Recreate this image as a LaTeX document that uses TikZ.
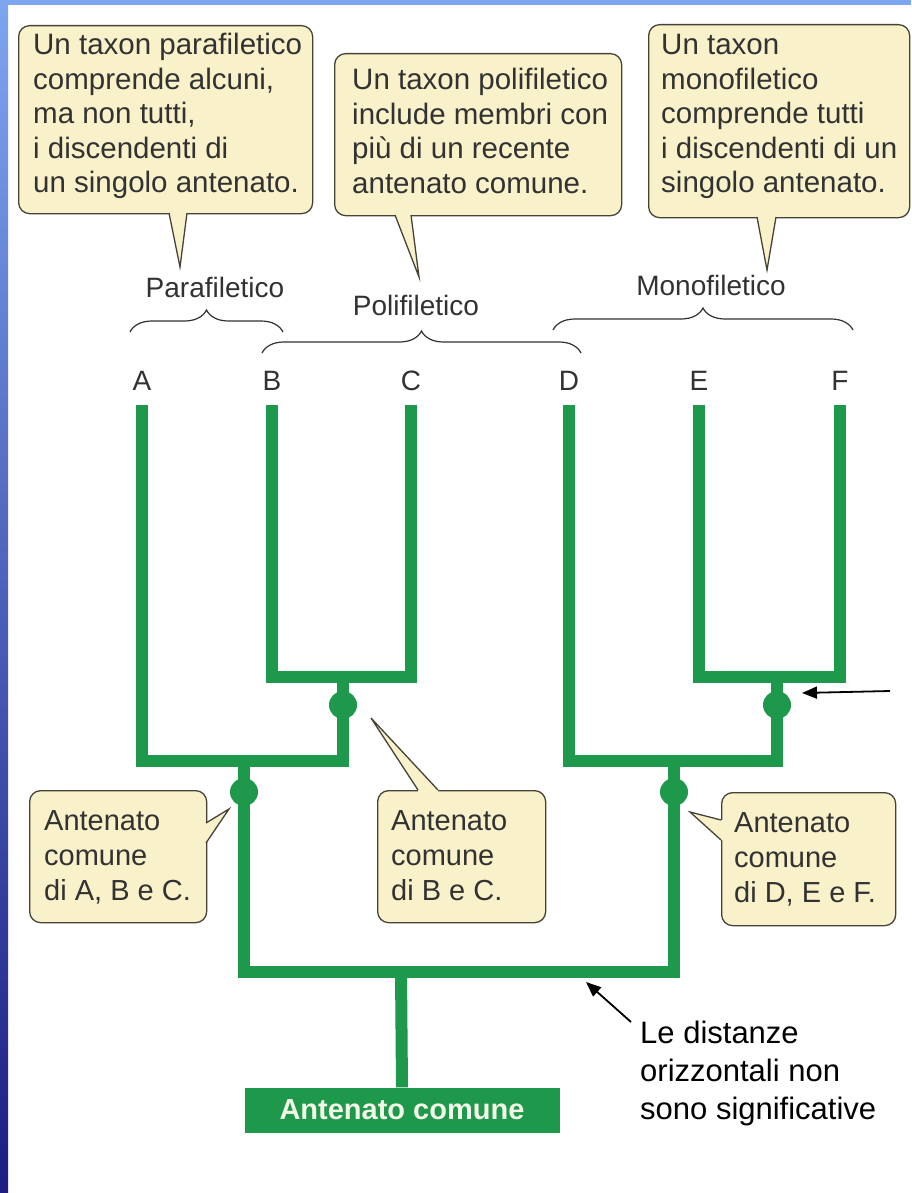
\documentclass[tikz,border=0pt]{standalone}
\usepackage{fontspec}
\setmainfont{Liberation Sans}
\usetikzlibrary{calc,arrows.meta,decorations.pathreplacing}
\definecolor{tree}{RGB}{30,152,74}
\definecolor{callfill}{RGB}{248,241,201}
\definecolor{callline}{RGB}{70,66,56}
\definecolor{txt}{RGB}{50,50,50}
\definecolor{edgelight}{RGB}{125,165,240}
\definecolor{edgemid}{RGB}{50,80,200}
\definecolor{edgedark}{RGB}{28,28,130}
\newcommand\mylines[1]{\begin{tabular}[t]{@{}l@{}}#1\end{tabular}}
\newcommand\calltail[4]{%
  \fill[callfill] ($#1+#4$) -- #1 -- #3 -- #2 -- ($#2+#4$) -- cycle;
  \draw[callline, line width=1.3pt, line join=miter] #1 -- #3 -- #2;}
\begin{document}
\begin{tikzpicture}[x=1pt,y=-1pt,
  callbox/.style={draw=callline, fill=callfill, line width=1.3pt, rounded corners=11pt, inner sep=0pt, anchor=north west},
  boxtext/.style={anchor=base west, inner sep=0pt, text=txt, font=\fontsize{29.5}{34.5}\selectfont},
  smalltext/.style={anchor=base west, inner sep=0pt, text=txt, font=\fontsize{29}{35}\selectfont},
  label/.style={anchor=base, inner sep=0pt, text=txt, font=\fontsize{28}{32}\selectfont},
  branch/.style={draw=tree, line width=12pt, line join=miter},
  knot/.style={circle, fill=tree, minimum size=28pt, inner sep=0pt},
  bracestyle/.style={draw=txt, line width=1.2pt, decorate, decoration={brace, amplitude=22pt}},
  arr/.style={draw=black, line width=1.8pt, -{Triangle[length=15pt,width=12pt]}},
  rootbox/.style={fill=tree, minimum width=315pt, minimum height=45pt, inner sep=0pt, text={rgb,255:red,242;green,247;blue,232}, font=\fontsize{29}{32}\selectfont\bfseries}
]
\useasboundingbox (0,0) rectangle (911,1193);
\fill[white] (0,0) rectangle (911,1193);
% blue slide edges
\shade[top color=edgelight, middle color=edgemid, bottom color=edgedark] (0,0) rectangle (8,1193);
\fill[edgelight] (0,0) rectangle (911,5);

% ---------- top callouts ----------
\node[callbox, minimum width=294pt, minimum height=188pt] (b1) at (18,25) {};
\calltail{(169,213)}{(187,213)}{(180,267)}{(0,-3)}
\node[boxtext] (t1) at (33,55) {\mylines{Un taxon parafiletico\\comprende alcuni,\\ma non tutti,\\i discendenti di\\un singolo antenato.}};

\node[callbox, minimum width=287pt, minimum height=162pt] (b2) at (334,53) {};
\calltail{(395,215)}{(411,215)}{(419,277)}{(0,-3)}
\node[boxtext] (t2) at (352,90) {\mylines{Un taxon polifiletico\\include membri con\\più di un recente\\antenato comune.}};

\node[callbox, minimum width=261pt, minimum height=193pt] (b3) at (648,24) {};
\calltail{(757,217)}{(776,217)}{(767,270)}{(0,-3)}
\node[boxtext] (t3) at (661,55) {\mylines{Un taxon\\monofiletico\\comprende tutti\\i discendenti di un\\singolo antenato.}};

% ---------- group labels and braces ----------
\node[label] (para) at (215,297) {Parafiletico};
\node[label] (poli) at (416,315) {Polifiletico};
\node[label] (mono) at (711,295) {Monofiletico};
\coordinate (brPa1) at (130,332); \coordinate (brPa2) at (283,332);
\coordinate (brPo1) at (262,353); \coordinate (brPo2) at (581,353);
\coordinate (brMo1) at (553,330); \coordinate (brMo2) at (853,330);
\draw[bracestyle] (brPa1) -- (brPa2);
\draw[bracestyle] (brPo1) -- (brPo2);
\draw[bracestyle] (brMo1) -- (brMo2);

% ---------- taxa ----------
\node[label] (lA) at (142,390) {A};
\node[label] (lB) at (272,390) {B};
\node[label] (lC) at (411,390) {C};
\node[label] (lD) at (569,390) {D};
\node[label] (lE) at (699,390) {E};
\node[label] (lF) at (840,390) {F};
\coordinate (tA) at (142,405);
\coordinate (tB) at (272,405);
\coordinate (tC) at (411,405);
\coordinate (tD) at (569,405);
\coordinate (tE) at (699,405);
\coordinate (tF) at (840,405);

% ---------- tree ----------
\coordinate (jBC) at (343,677);
\coordinate (jABC) at (244,761);
\coordinate (jEF) at (777,677);
\coordinate (jDEF) at (674,761);
\coordinate (bL) at (244,972);
\coordinate (bR) at (674,972);
\coordinate (jRoot) at (401,972);
\node[rootbox] (root) at (402,1110) {Antenato comune};

\draw[branch] (tB) |- (jBC) -| (tC);
\draw[branch] (tA) |- (jBC |- jABC) -- (jBC);
\draw[branch] (tE) |- (jEF) -| (tF);
\draw[branch] (tD) |- (jEF |- jDEF) -- (jEF);
\draw[branch] (jABC) -- (bL) -- (bR) -- (jDEF);
\draw[branch] (jRoot) -- (root.north);

\node[knot] (nBC) at (343,705) {};
\node[knot] (nABC) at (244,792) {};
\node[knot] (nEF) at (777,705) {};
\node[knot] (nDEF) at (674,792) {};

% ---------- bottom callouts ----------
\node[callbox, minimum width=177pt, minimum height=132pt] (c1) at (29,790) {};
\calltail{(206,823)}{(206,843)}{(229,809)}{(-3,0)}
\node[smalltext] (u1) at (44,830) {\mylines{Antenato\\comune\\di A, B e C.}};

\node[callbox, minimum width=168pt, minimum height=132pt] (c2) at (377,790) {};
\calltail{(418,790)}{(438,790)}{(371,718)}{(0,3)}
\node[smalltext] (u2) at (391,830) {\mylines{Antenato\\comune\\di B e C.}};

\node[callbox, minimum width=174pt, minimum height=133pt] (c3) at (721,792) {};
\calltail{(721,820)}{(721,840)}{(690,812)}{(3,0)}
\node[smalltext] (u3) at (734,832) {\mylines{Antenato\\comune\\di D, E e F.}};

% ---------- annotation ----------
\node[anchor=base west, inner sep=0pt, font=\fontsize{31}{38}\selectfont] (note) at (640,1043) {\mylines{Le distanze\\orizzontali non\\sono significative}};
\coordinate (a1s) at (890,691);
\coordinate (a1e) at (802,693);
\coordinate (a2s) at (631,1022);
\coordinate (a2e) at (586,982);
\draw[arr] (a1s) -- (a1e);
\draw[arr] (a2s) -- (a2e);
\end{tikzpicture}
\end{document}
